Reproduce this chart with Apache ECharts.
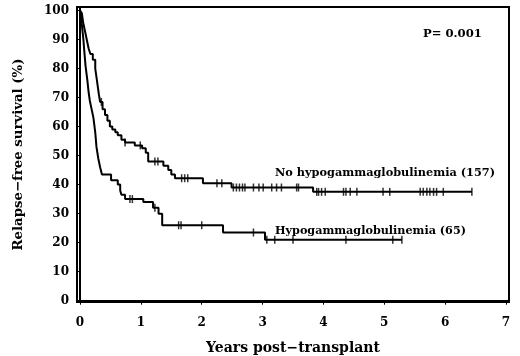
<!DOCTYPE html>
<html>
<head>
<meta charset="utf-8">
<script src="https://cdn.jsdelivr.net/npm/echarts@6/dist/echarts.min.js"></script>
<style>
  html, body { margin: 0; padding: 0; background: #fff; }
  #chart { width: 520px; height: 356px; }
</style>
</head>
<body>
<div id="chart"></div>
<script>
// No hypogammaglobulinemia (157): event times (years) and survival after each step (%)
const noHypoTimes = [0, 0.03, 0.05, 0.08, 0.11, 0.14, 0.17, 0.21, 0.25, 0.27, 0.29, 0.31, 0.33, 0.37, 0.41, 0.45, 0.49, 0.53, 0.58, 0.62, 0.68, 0.74, 0.9, 1.02, 1.08, 1.12, 1.37, 1.45, 1.5, 1.56, 2.02, 2.49, 3.83];
const noHypoSurv  = [100, 99, 96, 93, 90, 87, 85, 83, 80, 77, 74, 71, 68.5, 66, 64, 62, 60, 59, 58, 57, 55.5, 54.5, 53.5, 52.5, 51, 48, 46.5, 45, 43.5, 42.2, 40.5, 39, 37.5];
const noHypoCensor = [0.35, 0.74, 0.99, 1.23, 1.28, 1.67, 1.72, 1.77, 2.25, 2.33, 2.52, 2.57, 2.62, 2.67, 2.71, 2.85, 2.94, 3.01, 3.15, 3.23, 3.31, 3.56, 3.59, 3.89, 3.92, 3.97, 4.03, 4.33, 4.37, 4.44, 4.55, 4.98, 5.09, 5.59, 5.64, 5.7, 5.75, 5.81, 5.86, 5.97, 6.44];

// Hypogammaglobulinemia (65)
const hypoTimes = [0, 0.02, 0.04, 0.055, 0.07, 0.09, 0.12, 0.14, 0.16, 0.19, 0.22, 0.25, 0.27, 0.3, 0.33, 0.36, 0.51, 0.62, 0.66, 0.68, 0.74, 1.04, 1.2, 1.29, 1.35, 2.35, 3.04];
const hypoSurv  = [100, 97, 93, 90, 86, 81, 76, 72, 69, 66, 63, 58, 53, 49, 46, 43.5, 41.5, 40, 38, 36.5, 35, 34, 32, 30, 26, 23.5, 21];
const hypoCensor = [0.82, 0.86, 1.23, 1.62, 1.66, 2.0, 2.85, 3.07, 3.2, 3.5, 4.37, 5.14, 5.29];

const xTicks = [0, 1, 2, 3, 4, 5, 6, 7];
const yTicks = [0, 10, 20, 30, 40, 50, 60, 70, 80, 90, 100];

const labelFont = 'DejaVu Serif';

function survAt(times, surv, t){
  let v = surv[0];
  for(let i = 0; i < times.length; i++){
    if(times[i] <= t) v = surv[i];
  }
  return v;
}

function curve(times, surv, censor){
  const pts = times.map((t, i) => [t, surv[i]]);
  const last = censor[censor.length - 1];
  if(last > times[times.length - 1]) pts.push([last, surv[surv.length - 1]]);
  return pts;
}

function marks(times, surv, censor){
  return censor.map((t) => [t, survAt(times, surv, t)]);
}

const chart = echarts.init(document.getElementById('chart'), null, { renderer: 'canvas' });

const lineStyle = { color: '#000', width: 2 };

chart.setOption({
  animation: false,
  backgroundColor: '#fff',
  grid: {
    left: 77, right: 11, top: 7, bottom: 54,
    containLabel: false, outerBoundsMode: 'none',
    show: true, borderColor: '#000', borderWidth: 2
  },
  xAxis: {
    type: 'value',
    min: -0.05, max: 7.05,
    name: 'Years post\u2212transplant',
    nameLocation: 'middle',
    nameGap: 39,
    nameTextStyle: { fontFamily: labelFont, fontWeight: 'bold', fontSize: 14, color: '#000' },
    axisLine: { lineStyle: { color: '#000', width: 2 } },
    axisTick: { show: true, length: 4, customValues: xTicks, lineStyle: { color: '#000', width: 1 } },
    axisLabel: { customValues: xTicks, margin: 15, fontFamily: labelFont, fontWeight: 'bold', fontSize: 12, color: '#000' },
    splitLine: { show: false }
  },
  yAxis: {
    type: 'value',
    min: -0.45, max: 101.2,
    name: 'Relapse\u2212free survival (%)',
    nameLocation: 'middle',
    nameGap: 52,
    nameRotate: 90,
    nameTextStyle: { fontFamily: labelFont, fontWeight: 'bold', fontSize: 13.3, color: '#000' },
    axisLine: { show: true, lineStyle: { color: '#000', width: 2 } },
    axisTick: { show: true, length: 4, customValues: yTicks, lineStyle: { color: '#000', width: 1 } },
    axisLabel: { customValues: yTicks, margin: 8, fontFamily: labelFont, fontWeight: 'bold', fontSize: 12, color: '#000' },
    splitLine: { show: false }
  },
  series: [
    {
      name: 'No hypogammaglobulinemia',
      type: 'line', step: 'end', symbol: 'none',
      lineStyle: lineStyle,
      data: curve(noHypoTimes, noHypoSurv, noHypoCensor)
    },
    {
      name: 'Hypogammaglobulinemia',
      type: 'line', step: 'end', symbol: 'none',
      lineStyle: lineStyle,
      data: curve(hypoTimes, hypoSurv, hypoCensor)
    },
    {
      type: 'scatter', symbol: 'rect', symbolSize: [1.5, 8],
      itemStyle: { color: '#000' },
      data: marks(noHypoTimes, noHypoSurv, noHypoCensor)
    },
    {
      type: 'scatter', symbol: 'rect', symbolSize: [1.5, 8],
      itemStyle: { color: '#000' },
      data: marks(hypoTimes, hypoSurv, hypoCensor)
    }
  ],
  graphic: [
    { type: 'text', left: 423, top: 28, style: { text: 'P= 0.001', font: 'bold 11.6px "DejaVu Serif"', fill: '#000' } },
    { type: 'text', left: 275, top: 168, style: { text: 'No hypogammaglobulinemia (157)', font: 'bold 11.3px "DejaVu Serif"', fill: '#000' } },
    { type: 'text', left: 275, top: 226, style: { text: 'Hypogammaglobulinemia (65)', font: 'bold 11.2px "DejaVu Serif"', fill: '#000' } }
  ]
});
</script>
</body>
</html>
